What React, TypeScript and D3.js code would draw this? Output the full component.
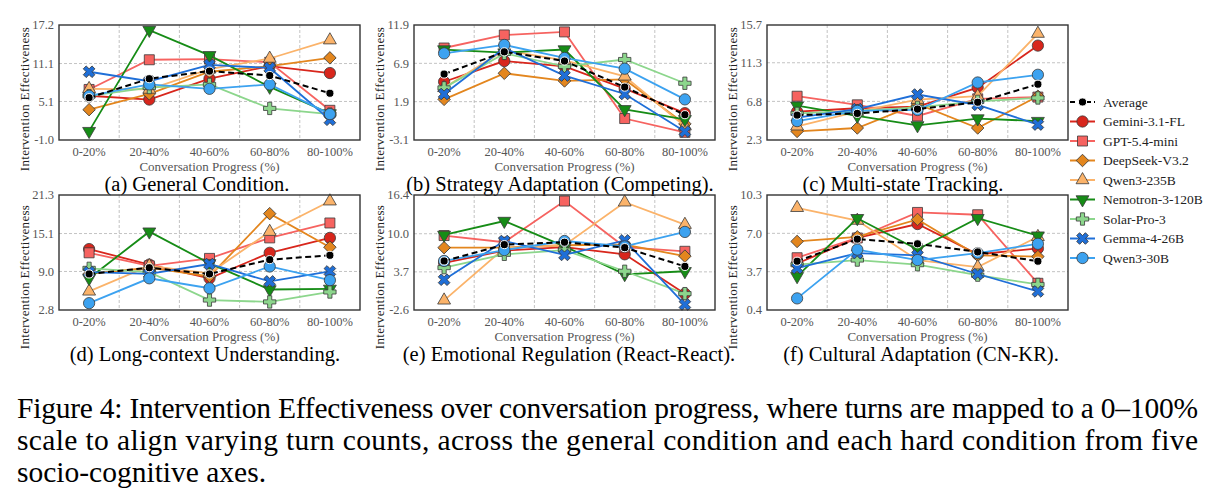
import React from "react";
import * as d3 from "d3";

const categories = ["0-20%", "20-40%", "40-60%", "60-80%", "80-100%"];
const models = [
  "Average",
  "Gemini-3.1-FL",
  "GPT-5.4-mini",
  "DeepSeek-V3.2",
  "Qwen3-235B",
  "Nemotron-3-120B",
  "Solar-Pro-3",
  "Gemma-4-26B",
  "Qwen3-30B",
];
const colors = ["#000000", "#d8261c", "#f66360", "#e3861e", "#fbb36a", "#168c16", "#8cd68c", "#1f6fd8", "#3ca2f0"];
const shapes = ["avg", "circle", "square", "diamond", "triUp", "triDown", "plus", "x", "circle"];

// rows follow the models order: Average, Gemini, GPT, DeepSeek, Qwen235, Nemotron, Solar, Gemma, Qwen30
const general = [
  [5.7, 8.7, 9.9, 9.2, 6.4],
  [6.0, 5.4, 8.7, 10.7, 9.6],
  [7.0, 11.7, 11.8, 11.3, 3.7],
  [3.8, 6.3, 9.8, 10.7, 12.0],
  [7.1, 7.0, 10.2, 11.9, 14.8],
  [0.4, 16.4, 12.4, 7.4, 3.2],
  [6.0, 7.3, 7.8, 4.0, 3.1],
  [9.8, 8.3, 10.9, 10.4, 2.2],
  [6.0, 7.8, 7.1, 7.8, 3.1],
];
const strategy = [
  [5.5, 8.4, 7.2, 3.8, 0.2],
  [4.5, 7.2, 6.5, 3.6, 0.4],
  [8.9, 10.6, 11.0, -0.3, -2.1],
  [2.2, 5.6, 4.6, 4.8, -1.0],
  [3.7, 8.6, 7.3, 5.2, -1.3],
  [8.7, 8.3, 8.7, 0.9, -0.4],
  [3.7, 8.2, 6.5, 7.4, 4.3],
  [2.9, 8.9, 5.3, 2.9, -2.0],
  [8.2, 9.3, 7.6, 6.2, 2.2],
];
const multiState = [
  [5.2, 5.4, 5.9, 6.7, 8.8],
  [5.6, 6.0, 6.2, 8.4, 13.3],
  [7.4, 6.4, 5.1, 7.1, 7.3],
  [3.3, 3.7, 6.5, 3.7, 7.4],
  [3.9, 5.6, 7.0, 7.4, 14.7],
  [6.3, 5.1, 4.0, 4.8, 4.5],
  [5.4, 5.7, 6.1, 6.8, 7.2],
  [4.9, 5.9, 7.6, 6.4, 4.1],
  [4.5, 5.7, 5.8, 9.0, 9.9],
];
const longContext = [
  [8.6, 9.6, 8.6, 10.9, 11.6],
  [12.6, 10.1, 7.9, 12.0, 14.4],
  [12.0, 9.9, 11.1, 14.4, 16.8],
  [8.6, 9.6, 8.2, 18.3, 12.9],
  [5.8, 9.9, 8.7, 15.4, 20.3],
  [7.9, 15.4, 10.3, 6.1, 6.2],
  [9.5, 8.9, 4.4, 4.1, 5.7],
  [8.9, 8.6, 10.2, 7.4, 9.0],
  [3.9, 7.9, 6.3, 9.8, 7.6],
];
const emotional = [
  [5.5, 8.2, 8.6, 7.7, 4.6],
  [5.2, 7.2, 7.8, 6.6, 0.1],
  [9.7, 8.6, 15.4, 7.8, 7.1],
  [7.7, 7.7, 8.1, 8.2, 6.3],
  [-1.0, 7.6, 8.1, 15.2, 11.5],
  [9.8, 12.1, 7.9, 3.3, 3.8],
  [4.4, 6.6, 7.3, 3.8, 0.1],
  [2.4, 8.8, 6.5, 8.9, -1.7],
  [5.5, 7.3, 8.8, 7.9, 10.3],
];
const cultural = [
  [4.6, 6.5, 6.1, 5.4, 4.6],
  [4.4, 6.6, 7.8, 5.2, 5.7],
  [4.9, 6.6, 8.8, 8.6, 2.7],
  [6.3, 6.7, 8.2, 5.1, 5.0],
  [9.2, 8.1, 4.7, 4.1, 6.7],
  [3.3, 8.3, 5.6, 8.3, 6.8],
  [4.3, 4.7, 4.3, 3.4, 2.6],
  [4.0, 5.3, 5.1, 3.5, 2.0],
  [1.4, 5.6, 4.7, 5.3, 6.1],
];

const yTicksA = [-1.0, 5.1, 11.1, 17.2];
const yTicksB = [-3.1, 1.9, 6.9, 11.9];
const yTicksC = [2.3, 6.8, 11.3, 15.7];
const yTicksD = [2.8, 9.0, 15.1, 21.3];
const yTicksE = [-2.6, 3.7, 10.0, 16.4];
const yTicksF = [0.4, 3.7, 7.0, 10.3];

const titles = [
  "(a) General Condition.",
  "(b) Strategy Adaptation (Competing).",
  "(c) Multi-state Tracking.",
  "(d) Long-context Understanding.",
  "(e) Emotional Regulation (React-React).",
  "(f) Cultural Adaptation (CN-KR).",
];

const captionLines = [
  "Figure 4: Intervention Effectiveness over conversation progress, where turns are mapped to a 0\u2013100%",
  "scale to align varying turn counts, across the general condition and each hard condition from five",
  "socio-cognitive axes.",
];

const FONT = "'Liberation Serif', 'Times New Roman', serif";

const panels = [
  { data: general, ticks: yTicksA, left: 59, top: 25, titleX: 197, labelY: 99 },
  { data: strategy, ticks: yTicksB, left: 414, top: 25, titleX: 560, labelY: 99 },
  { data: multiState, ticks: yTicksC, left: 767, top: 25, titleX: 903, labelY: 99 },
  { data: longContext, ticks: yTicksD, left: 59, top: 195, titleX: 205, labelY: 277 },
  { data: emotional, ticks: yTicksE, left: 414, top: 195, titleX: 569, labelY: 277 },
  { data: cultural, ticks: yTicksF, left: 767, top: 195, titleX: 921, labelY: 277 },
];
const W = 301;
const H = 115;

function markerPath(shape) {
  if (shape === "square") return d3.symbol(d3.symbolSquare, 100)();
  if (shape === "diamond") return d3.symbol(d3.symbolSquare, 78)();
  if (shape === "triUp" || shape === "triDown") return d3.symbol(d3.symbolTriangle, 72)();
  if (shape === "plus") return d3.symbol(d3.symbolCross, 85)();
  if (shape === "x") return d3.symbol(d3.symbolCross, 85)();
  if (shape === "avg") return d3.symbol(d3.symbolCircle, 52)();
  return d3.symbol(d3.symbolCircle, 100)();
}
function markerRotate(shape) {
  if (shape === "diamond" || shape === "x") return 45;
  if (shape === "triDown") return 180;
  return 0;
}

function Marker({ x, y, i }) {
  const shape = shapes[i];
  return (
    <path
      d={markerPath(shape)}
      transform={`translate(${x},${y}) rotate(${markerRotate(shape)})`}
      fill={colors[i]}
      stroke={i === 0 ? "#ffffff" : "#3a3a3a"}
      strokeWidth={i === 0 ? 1 : 0.8}
    />
  );
}

function Panel({ p, idx }) {
  const x = d3.scaleBand().domain(categories).range([p.left, p.left + W]);
  const y = d3.scaleLinear().domain([p.ticks[0], p.ticks[p.ticks.length - 1]]).range([p.top + H, p.top]);
  const cx = (c) => x(c) + x.bandwidth() / 2;
  const line = d3.line().x((d, j) => cx(categories[j])).y((d) => y(d));
  const bottom = p.top + H;
  // draw the colored models first, the average on top
  const order = [1, 2, 3, 4, 5, 6, 7, 8, 0];
  return (
    <g>
      {categories.slice(1).map((c) => (
        <line key={c} x1={x(c)} x2={x(c)} y1={p.top} y2={bottom} stroke="#b4b4b4" strokeWidth={0.8} strokeDasharray="3,2" />
      ))}
      {p.ticks.slice(1, -1).map((t) => (
        <line key={t} x1={p.left} x2={p.left + W} y1={y(t)} y2={y(t)} stroke="#b4b4b4" strokeWidth={0.8} strokeDasharray="3,2" />
      ))}
      {order.map((i) => (
        <g key={i}>
          <path
            d={line(p.data[i])}
            fill="none"
            stroke={colors[i]}
            strokeWidth={i === 0 ? 2 : 1.8}
            strokeDasharray={i === 0 ? "6,3.5" : null}
          />
          {p.data[i].map((v, j) => (
            <Marker key={j} x={cx(categories[j])} y={y(v)} i={i} />
          ))}
        </g>
      ))}
      <rect x={p.left} y={p.top} width={W} height={H} fill="none" stroke="#333" strokeWidth={1.4} />
      {p.ticks.map((t) => (
        <text key={t} x={p.left - 5} y={y(t)} dy="0.35em" textAnchor="end" fontSize={12.5} fill="#555">
          {t.toFixed(1)}
        </text>
      ))}
      {categories.map((c) => (
        <text key={c} x={cx(c)} y={bottom + 15.5} textAnchor="middle" fontSize={12.5} fill="#555">
          {c}
        </text>
      ))}
      <text x={p.left + W / 2} y={bottom + 31} textAnchor="middle" fontSize={13} fill="#555">
        Conversation Progress (%)
      </text>
      <text
        transform={`translate(${p.left - 30},${p.labelY}) rotate(-90)`}
        textAnchor="middle"
        fontSize={13}
        fill="#222"
        letterSpacing={0.3}
      >
        Intervention Effectiveness
      </text>
      <text x={p.titleX} y={bottom + 51} textAnchor="middle" fontSize={20.5} fill="#000">
        {titles[idx]}
      </text>
    </g>
  );
}

function Legend() {
  const ly = d3.scalePoint().domain(models).range([102, 258]);
  return (
    <g>
      {models.map((m, i) => (
        <g key={m}>
          <line
            x1={1070}
            x2={1095}
            y1={ly(m)}
            y2={ly(m)}
            stroke={colors[i]}
            strokeWidth={2}
            strokeDasharray={i === 0 ? "5,3" : null}
          />
          <Marker x={1082.5} y={ly(m)} i={i} />
          <text x={1103} y={ly(m)} dy="0.35em" fontSize={13.5} fill="#222">
            {m}
          </text>
        </g>
      ))}
    </g>
  );
}

export default function App() {
  return (
    <svg
      width={1222}
      height={497}
      style={{ position: "absolute", left: 0, top: 0, background: "#fff" }}
      fontFamily={FONT}
    >
      {panels.map((p, i) => (
        <Panel key={i} p={p} idx={i} />
      ))}
      <Legend />
      {captionLines.map((l, i) => (
        <text
          key={i}
          x={17}
          y={418 + i * 32}
          fontSize={29.5}
          fill="#000"
          textLength={i < 2 ? 1181 : null}
          lengthAdjust="spacing"
        >
          {l}
        </text>
      ))}
    </svg>
  );
}
